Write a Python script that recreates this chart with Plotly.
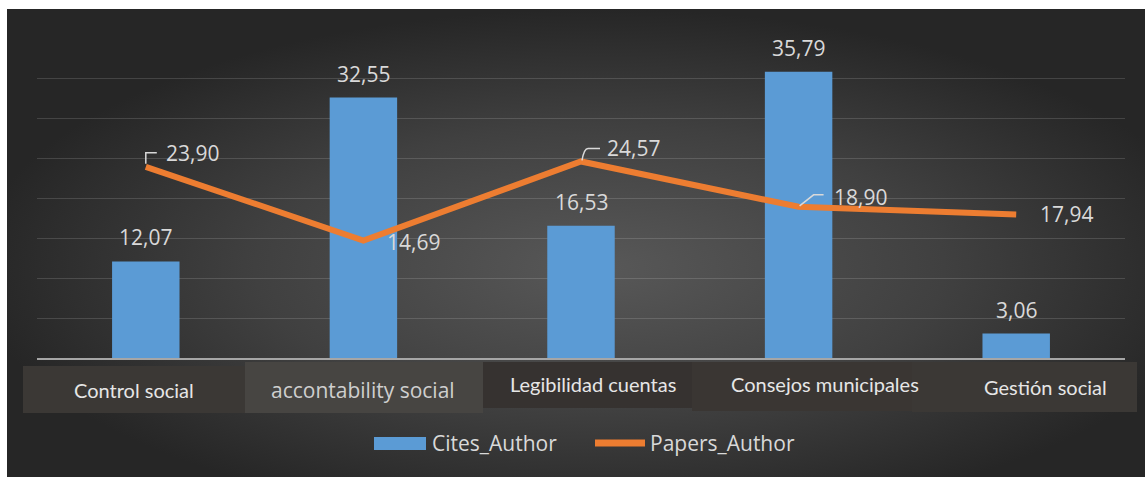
import base64
import plotly.graph_objects as go

# ---------------- data ----------------
categories = ["Control social", "accontability social", "Legibilidad cuentas",
              "Consejos municipales", "Gestión social"]
cites_author = [12.07, 32.55, 16.53, 35.79, 3.06]
papers_author = [23.90, 14.69, 24.57, 18.90, 17.94]
series_names = ["Cites_Author", "Papers_Author"]

# ---------------- style ----------------
FW, FH = 1145, 477          # figure size
L, T, PW, PH = 37, 38, 1088, 320
R, B = FW - L - PW, FH - T - PH
BLUE, ORANGE = "#5b9bd5", "#ed7d31"
TXT = "#d9d9d9"
NUM_FONT = dict(family="Open Sans", size=21, color=TXT)

def px(x):   # page pixel -> paper x
    return (x - L) / PW

def py(y):
    return (T + PH - y) / PH

fig = go.Figure()
fig.add_trace(go.Bar(x=categories, y=cites_author, marker=dict(color=BLUE, line=dict(width=0)),
                     width=0.31, name=series_names[0], hoverinfo="skip"))
fig.add_trace(go.Scatter(x=categories, y=papers_author, mode="lines",
                         line=dict(color=ORANGE, width=6), name=series_names[1],
                         hoverinfo="skip"))

ann = []
shapes = []

# bar value labels
for c, v in zip(categories, cites_author):
    ann.append(dict(x=c, y=v, xref="x", yref="y", text=f"{v:.2f}".replace(".", ","),
                    showarrow=False, yshift=24, font=NUM_FONT))

# line value labels (offsets in pixels)
line_offsets = [(47, 14), (50, -2), (52, 13), (62, 10), (50, 0)]
for c, v, (dx, dy) in zip(categories, papers_author, line_offsets):
    ann.append(dict(x=c, y=v, xref="x", yref="y", text=f"{v:.2f}".replace(".", ","),
                    showarrow=False, xshift=dx, yshift=dy, font=NUM_FONT))

# leader lines for some labels
leaders = {0: "M0,3 L0,14 L11,14", 2: "M1,1 Q3,13 7,13 L19,13", 3: "M1,1 L15,12 L25,12"}
for i, path in leaders.items():
    shapes.append(dict(type="path", xref="x", yref="y", xsizemode="pixel", ysizemode="pixel",
                       xanchor=categories[i], yanchor=papers_author[i], path=path,
                       line=dict(color=TXT, width=1.5), layer="above"))

# category label boxes (page-pixel boxes)
boxes = [(23, 245, 366, 413, "#3b3835"), (245, 483, 362, 413, "#474542"),
         (483, 692, 362, 408, "#363230"), (692, 912, 362, 411, "#3a3633"),
         (912, 1137, 362, 412, "#3b3835")]
for x0, x1, y0, y1, col in boxes:
    shapes.append(dict(type="rect", xref="paper", yref="paper", x0=px(x0), x1=px(x1),
                       y0=py(y1), y1=py(y0), fillcolor=col, line=dict(width=0), layer="below"))

label_pos = [(134, 390), (363, 390), (593, 384), (825, 384), (1045, 387)]
LAB = dict(family="Lato", size=20, color="#e6e6e6")
label_fonts = [LAB, dict(family="Open Sans", size=21, color="#cfcfcf"), LAB, LAB, LAB]
for c, (lx, ly), f in zip(categories, label_pos, label_fonts):
    ann.append(dict(x=px(lx), y=py(ly), xref="paper", yref="paper", text=c,
                    showarrow=False, xanchor="center", yanchor="middle", font=f))

# legend drawn manually
LEG_FONT = dict(family="Open Sans", size=21, color=TXT)
shapes.append(dict(type="rect", xref="paper", yref="paper", x0=px(374), x1=px(426),
                   y0=py(450), y1=py(437), fillcolor=BLUE, line=dict(width=0)))
ann.append(dict(x=px(430), y=py(443), xref="paper", yref="paper", text=series_names[0],
                showarrow=False, xanchor="left", yanchor="middle", font=LEG_FONT))
shapes.append(dict(type="line", xref="paper", yref="paper", x0=px(595), x1=px(645),
                   y0=py(443), y1=py(443), line=dict(color=ORANGE, width=7)))
ann.append(dict(x=px(648), y=py(443), xref="paper", yref="paper", text=series_names[1],
                showarrow=False, xanchor="left", yanchor="middle", font=LEG_FONT))

# white frame at top and left
BX, BY = 7, 9
shapes.append(dict(type="rect", xref="paper", yref="paper", x0=px(-2), x1=px(FW + 2),
                   y0=py(BY), y1=py(-2), fillcolor="#ffffff", line=dict(width=0), layer="above"))
shapes.append(dict(type="rect", xref="paper", yref="paper", x0=px(-2), x1=px(BX),
                   y0=py(FH + 2), y1=py(-2), fillcolor="#ffffff", line=dict(width=0), layer="above"))

# radial gradient background as svg image
BW, BH = FW - BX + 2, FH - BY + 2
svg = (f'<svg xmlns="http://www.w3.org/2000/svg" width="{BW}" height="{BH}" '
       f'preserveAspectRatio="none">'
       '<defs><radialGradient id="g" cx="0.52" cy="0.55" r="0.55">'
       '<stop offset="0" stop-color="#585858"/><stop offset="0.55" stop-color="#404040"/>'
       '<stop offset="1" stop-color="#262626"/></radialGradient></defs>'
       '<rect width="100%" height="100%" fill="url(#g)"/></svg>')
src = "data:image/svg+xml;base64," + base64.b64encode(svg.encode()).decode()

fig.update_layout(
    width=FW, height=FH, margin=dict(l=L, r=R, t=T, b=B, pad=0),
    paper_bgcolor="#262626", plot_bgcolor="rgba(0,0,0,0)",
    showlegend=False, bargap=0.69,
    images=[dict(source=src, xref="paper", yref="paper", x=px(BX), y=py(BY),
                 sizex=BW / PW, sizey=BH / PH, sizing="stretch", xanchor="left",
                 yanchor="top", layer="below")],
    xaxis=dict(showticklabels=False, showgrid=False, zeroline=False, showline=True,
               linecolor="#a6a6a6", linewidth=2, ticks=""),
    yaxis=dict(range=[0, 40], dtick=5, showticklabels=False, showgrid=True,
               gridcolor="rgba(255,255,255,0.14)", gridwidth=1, zeroline=False,
               showline=False),
    annotations=ann, shapes=shapes,
)

fig.write_html("out.html", config={"displayModeBar": False},
               post_script="document.body.style.margin='0px';"
                           "document.body.style.overflow='hidden';"
                           "document.documentElement.style.overflow='hidden';")
